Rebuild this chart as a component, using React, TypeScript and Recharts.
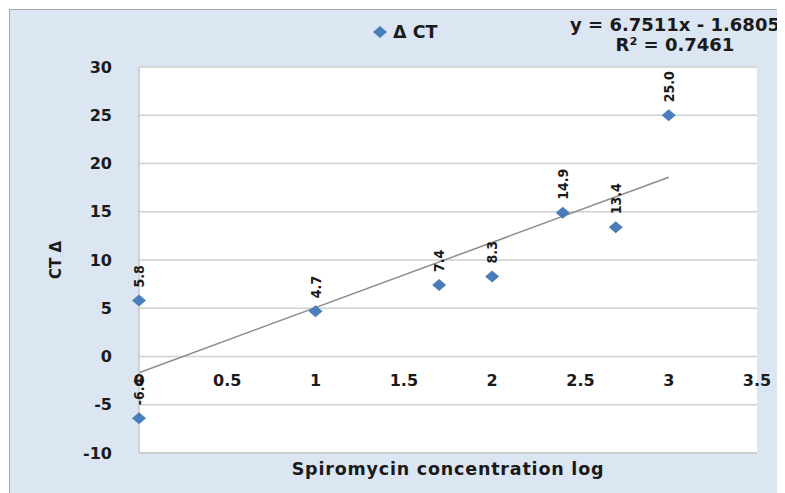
import React from "react";
import {
  ScatterChart,
  Scatter,
  XAxis,
  YAxis,
  CartesianGrid,
  ReferenceLine,
  LabelList,
} from "recharts";

const concentrationLog = [0, 0, 1, 1.7, 2, 2.4, 2.7, 3];
const deltaCt = [5.8, -6.4, 4.7, 7.4, 8.3, 14.9, 13.4, 25.0];
const xTicks = [0, 0.5, 1, 1.5, 2, 2.5, 3, 3.5];
const yTicks = [-10, -5, 0, 5, 10, 15, 20, 25, 30];

// trendline from the fitted equation
const slope = 6.7511;
const intercept = -1.6805;
const trendFrom = 0;
const trendTo = 3;

const points = concentrationLog.map((x, i) => ({ x, y: deltaCt[i] }));

const FONT = "'DejaVu Sans', sans-serif";
const BLUE = "#4a7ebb";
const INK = "#1a1a1a";

const Diamond = (props: any) => {
  const { cx, cy } = props;
  return (
    <polygon
      points={`${cx - 7},${cy} ${cx},${cy - 6} ${cx + 7},${cy} ${cx},${cy + 6}`}
      fill={BLUE}
    />
  );
};

const PointLabel = (props: any) => {
  const { x, y, width, height, value } = props;
  const cx = x + width / 2;
  const cy = y + height / 2;
  return (
    <text
      transform={`translate(${cx + 5},${cy - 13}) rotate(-90)`}
      fontSize={14}
      fontWeight={700}
      fontFamily="'DejaVu Sans Condensed', 'DejaVu Sans', sans-serif"
      fill={INK}
    >
      {value.toFixed(1)}
    </text>
  );
};

const XTick = (props: any) => {
  const { x, y, payload } = props;
  return (
    <text
      x={x}
      y={y - 81}
      textAnchor="middle"
      dominantBaseline="central"
      fontSize={16}
      fontWeight={700}
      fontFamily={FONT}
      fill={INK}
    >
      {payload.value}
    </text>
  );
};

export default function App() {
  return (
    <div
      style={{
        position: "relative",
        margin: "2px 0 0 2px",
        width: 777,
        height: 485,
        background: "#dce6f2",
        outline: "1px solid #a6a6a6",
        fontFamily: FONT,
      }}
    >
      <div
        style={{
          position: "absolute",
          left: 362,
          top: 12,
          display: "flex",
          alignItems: "center",
          fontSize: 17.5,
          fontWeight: 700,
          color: INK,
        }}
      >
        <svg width={16} height={14}>
          <polygon points="1,7 8,1 15,7 8,13" fill={BLUE} />
        </svg>
        <span style={{ marginLeft: 5 }}>Δ CT</span>
      </div>
      <div
        style={{
          position: "absolute",
          left: 535,
          width: 260,
          top: 5,
          textAlign: "center",
          whiteSpace: "nowrap",
          fontSize: 18,
          fontWeight: 700,
          lineHeight: "20px",
          color: INK,
        }}
      >
        y = 6.7511x - 1.6805
        <br />
        R² = 0.7461
      </div>
      <ScatterChart
        width={775}
        height={483}
        margin={{ top: 57, right: 28, bottom: 0, left: 30 }}
      >
        <CartesianGrid
          vertical={false}
          stroke="#cfcfcf"
          fill="#ffffff"
          strokeWidth={1.5}
        />
        <XAxis
          type="number"
          dataKey="x"
          domain={[0, 3.5]}
          ticks={xTicks}
          height={40}
          tickLine={false}
          axisLine={{ stroke: "#c8c8c8", strokeWidth: 1.5 }}
          tick={<XTick />}
          label={{
            value: "Spiromycin concentration log",
            position: "insideBottom",
            offset: 18,
            style: {
              fontSize: 17.5,
              fontWeight: 700,
              letterSpacing: 0.8,
              fill: INK,
              fontFamily: FONT,
            },
          }}
        />
        <YAxis
          type="number"
          dataKey="y"
          domain={[-10, 30]}
          ticks={yTicks}
          width={99}
          tickLine={false}
          tickSize={0}
          tickMargin={27}
          axisLine={{ stroke: "#c8c8c8", strokeWidth: 1.5 }}
          tick={{ fontSize: 16, fontWeight: 700, fill: INK, fontFamily: FONT }}
          label={{
            value: "CT Δ",
            angle: -90,
            position: "insideLeft",
            offset: 16,
            style: { fontSize: 15, fontWeight: 700, fill: INK, fontFamily: FONT, textAnchor: "middle" },
          }}
        />
        <ReferenceLine
          segment={[
            { x: trendFrom, y: slope * trendFrom + intercept },
            { x: trendTo, y: slope * trendTo + intercept },
          ]}
          stroke="#8c8c8c"
          strokeWidth={1.5}
          ifOverflow="visible"
        />
        <Scatter data={points} shape={<Diamond />} isAnimationActive={false}>
          <LabelList dataKey="y" content={<PointLabel />} />
        </Scatter>
      </ScatterChart>
    </div>
  );
}
